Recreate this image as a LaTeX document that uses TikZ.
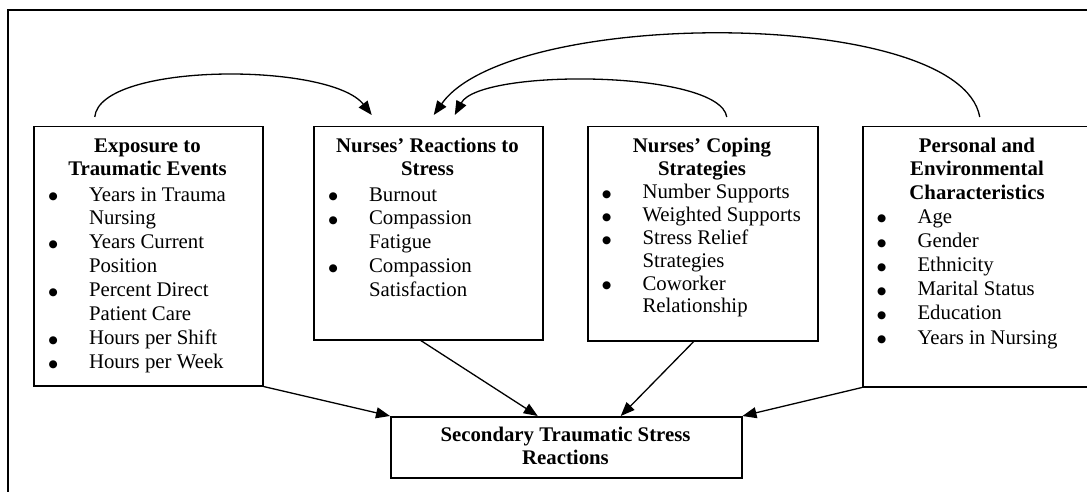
\documentclass[tikz,border=0pt]{standalone}
\usepackage{fontspec}
\setmainfont{Liberation Serif}
\newfontfamily\dvsans{DejaVu Sans}
\usetikzlibrary{arrows.meta,calc}
\newcommand\bul{\raisebox{1.2pt}{\dvsans\fontsize{10.5}{10.5}\selectfont ●}}
\begin{document}
\begin{tikzpicture}[x=1pt,y=-1pt,
  box/.style={draw,line width=1.5pt,rectangle,inner sep=0pt,anchor=north west},
  txt/.style={inner sep=0pt,outer sep=0pt,font={\fontsize{20.8}{23.9}\selectfont}},
  headtxt/.style={txt,anchor=north,font={\fontsize{20.8}{23.3}\selectfont\bfseries}},
  listtxt/.style={txt,anchor=north west},
  arr/.style={line width=1.3pt,-{Triangle[length=14pt,width=11pt]}},
  frame/.style={line width=1.6pt}]
\useasboundingbox (0,0) rectangle (1087,492);
\clip (0,0) rectangle (1087,492);
\draw[frame] (8,492) -- (8,10) -- (1090,10);

% boxes
\node[box,minimum width=229pt,minimum height=259pt] (b1) at (33,126) {};
\node[box,minimum width=229pt,minimum height=213pt] (b2) at (313,126) {};
\node[box,minimum width=230pt,minimum height=214pt] (b3) at (587,126) {};
\node[box,minimum width=230pt,minimum height=260pt] (b4) at (862,126) {};
\node[box,minimum width=351pt,minimum height=61pt] (bot) at (390,416) {};

% headings
\node[headtxt] (h1) at (147.5,136.3) {\begin{tabular}{@{}c@{}}Exposure to\\Traumatic Events\end{tabular}};
\node[headtxt] (h2) at (427.5,136.3) {\begin{tabular}{@{}c@{}}Nurses’ Reactions to\\Stress\end{tabular}};
\node[headtxt] (h3) at (702,136.3) {\begin{tabular}{@{}c@{}}Nurses’ Coping\\Strategies\end{tabular}};
\node[headtxt] (h4) at (977,136.3) {\begin{tabular}{@{}c@{}}Personal and\\Environmental\\Characteristics\end{tabular}};
\node[headtxt] (h5) at (565.5,425.3) {\begin{tabular}{@{}c@{}}Secondary Traumatic Stress\\Reactions\end{tabular}};

% lists
\node[listtxt] (l1) at (48.5,184.3) {\begin{tabular}{@{}p{40.5pt}@{}l@{}}
\bul & Years in Trauma\\
 & Nursing\\
\bul & Years Current\\
 & Position\\
\bul & Percent Direct\\
 & Patient Care\\
\bul & Hours per Shift\\
\bul & Hours per Week
\end{tabular}};
\node[listtxt] (l2) at (328.5,184.3) {\begin{tabular}{@{}p{40.5pt}@{}l@{}}
\bul & Burnout\\
\bul & Compassion\\
 & Fatigue\\
\bul & Compassion\\
 & Satisfaction
\end{tabular}};
\node[listtxt,font={\fontsize{20.8}{22.8}\selectfont}] (l3) at (602,183) {\begin{tabular}{@{}p{40.5pt}@{}l@{}}
\bul & Number Supports\\
\bul & Weighted Supports\\
\bul & Stress Relief\\
 & Strategies\\
\bul & Coworker\\
 & Relationship
\end{tabular}};
\node[listtxt,font={\fontsize{20.8}{24.2}\selectfont}] (l4) at (877,206.1) {\begin{tabular}{@{}p{40.5pt}@{}l@{}}
\bul & Age\\
\bul & Gender\\
\bul & Ethnicity\\
\bul & Marital Status\\
\bul & Education\\
\bul & Years in Nursing
\end{tabular}};

% straight arrows
\draw[arr] (b1.south east) -- (bot.north west);
\draw[arr] ([xshift=-7.5pt]b2.south) -- ([xshift=-28.5pt]bot.north);
\draw[arr] ([xshift=-9pt]b3.south) -- ([xshift=54.5pt]bot.north);
\draw[arr] (b4.south west) -- (bot.north east);

% curved arrows
\coordinate (s1) at ([xshift=-53.5pt,yshift=9pt]b1.north);
\coordinate (s3) at ([xshift=24pt,yshift=9pt]b3.north);
\coordinate (s4) at ([xshift=2pt,yshift=9pt]b4.north);
\coordinate (e1) at ([xshift=-56.5pt,yshift=11pt]b2.north);
\coordinate (e3) at ([xshift=26.5pt,yshift=11pt]b2.north);
\coordinate (e4) at ([xshift=5.5pt,yshift=11pt]b2.north);
\draw[arr] (s1) .. controls (100,62) and (330,62) .. (e1);
\draw[arr] (s3) .. controls (720,70) and (480,68) .. (e3);
\draw[arr] (s4) .. controls (960,7) and (510,7) .. (e4);
\end{tikzpicture}
\end{document}
